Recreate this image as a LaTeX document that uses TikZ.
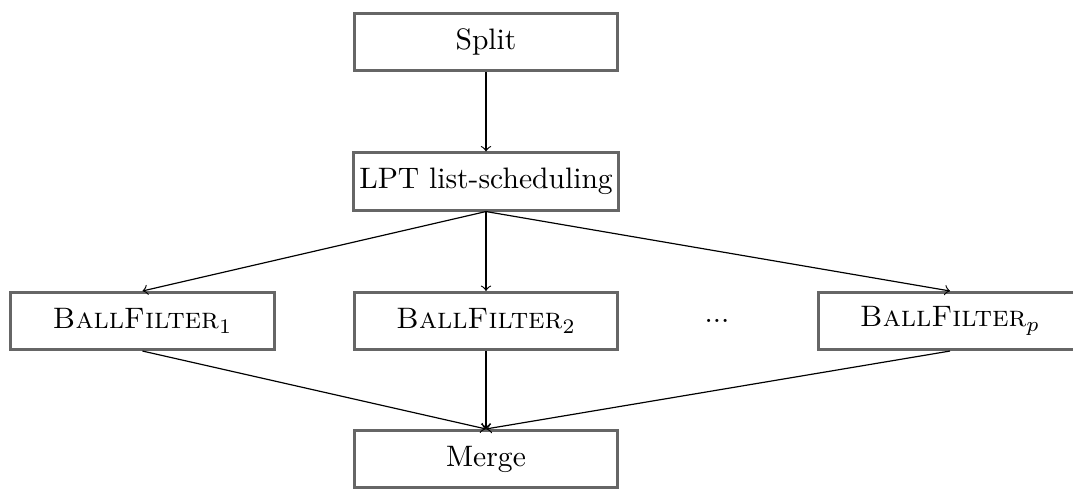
\documentclass[tikz,border=0pt]{standalone}
\usetikzlibrary{positioning}
\definecolor{boxgray}{RGB}{102,102,102}
\begin{document}
\begin{tikzpicture}[x=0.338pt,y=-0.338pt,
  stage/.style={draw=boxgray, line width=1pt, fill=white, minimum width=89pt, minimum height=19.3pt, inner sep=2pt},
  flow/.style={->, line width=0.4pt}]
\useasboundingbox (0,0) rectangle (1073,488);
\node[stage] (split) at (486,42) {Split};
\node[stage] (lpt) at (486,181.5) {LPT list-scheduling};
\node[stage] (bf1) at (142.5,321) {\textsc{BallFilter}$_1$};
\node[stage] (bf2) at (486,321) {\textsc{BallFilter}$_2$};
\node (dots) at (717,321) {...};
\node[stage] (bfp) at (950,321) {\textsc{BallFilter}$_p$};
\node[stage] (merge) at (486,459) {Merge};
\draw[flow] (split.south) -- (lpt.north);
\draw[flow] (lpt.south) -- (bf1.north);
\draw[flow] (lpt.south) -- (bf2.north);
\draw[flow] (lpt.south) -- (bfp.north);
\draw[flow] (bf1.south) -- (merge.north);
\draw[flow] (bf2.south) -- (merge.north);
\draw[flow] (bfp.south) -- (merge.north);
\end{tikzpicture}
\end{document}
